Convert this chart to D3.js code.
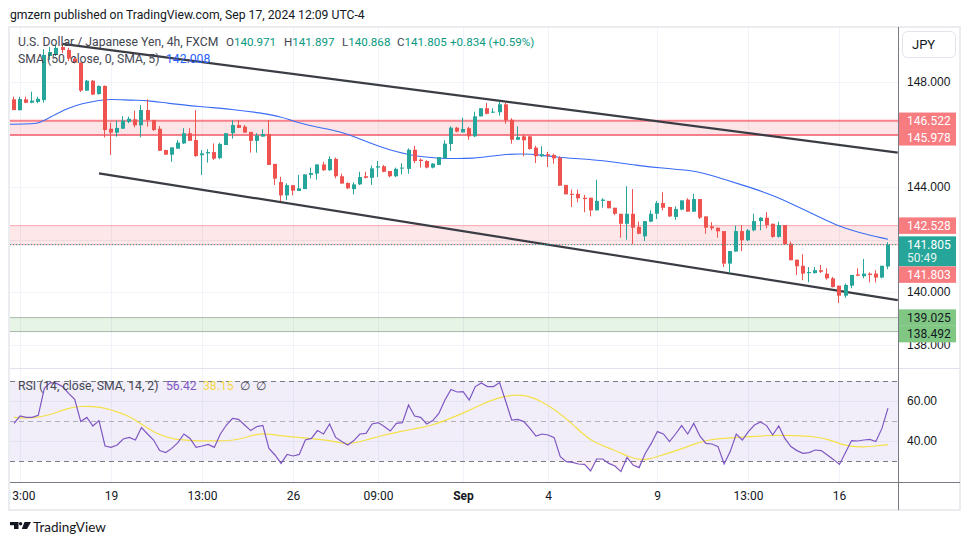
<!DOCTYPE html>
<html><head><meta charset="utf-8">
<script src="https://cdn.jsdelivr.net/npm/d3@7"></script>
<style>body{margin:0;background:#fff}svg{display:block;font-family:Roboto,'Liberation Sans',Arial,sans-serif}</style>
</head><body><svg id="c" width="970" height="545"></svg>
<script>
// ---------------- DATA ----------------
const publishText = "gmzern published on TradingView.com, Sep 17, 2024 12:09 UTC-4";
const symbolText = "U.S. Dollar / Japanese Yen, 4h, FXCM";
const ohlcLabels = ["O","H","L","C"];
const ohlcValues = ["140.971","141.897","140.868","141.805"];
const changeText = "+0.834 (+0.59%)";
const smaLegend = "SMA (50, close, 0, SMA, 5)";
const smaLast = "142.008";
const rsiLegend = "RSI (14, close, SMA, 14, 2)";
const rsiLast = "56.42";
const rsiMaLast = "38.15";

const candleOpen = [
147.34,146.93,147.34,147.21,147.24,147.31,148.99,149.03,149.33,149.22,
148.89,148.74,147.67,148.05,147.54,147.85,146.22,146.07,146.22,146.48,
146.58,146.35,146.93,146.55,146.22,145.41,145.23,145.46,145.66,146.05,
145.79,145.21,145.28,145.33,145.10,145.60,146.05,146.36,146.30,146.10,
145.76,145.92,146.02,144.88,144.19,143.68,144.07,143.85,143.92,144.46,
144.51,144.86,144.64,145.07,144.41,144.15,143.92,144.10,144.41,144.35,
144.74,144.79,144.61,144.41,144.70,144.69,145.42,145.04,144.99,144.74,
144.84,145.10,145.64,146.26,146.08,146.24,145.93,146.69,147.00,146.85,
146.85,147.15,146.56,145.80,145.93,145.93,145.50,145.17,145.25,145.22,
145.12,144.08,143.74,143.74,143.59,143.59,143.11,143.47,143.47,143.21,
142.98,142.60,142.98,142.48,142.12,142.68,142.98,143.39,143.24,142.86,
143.14,143.52,143.06,143.54,142.88,142.50,142.45,142.32,141.08,141.54,
142.32,141.97,142.35,142.70,142.83,142.60,142.10,142.55,141.84,141.23,
141.00,140.72,140.72,140.83,140.70,140.52,140.24,139.86,140.24,140.67,
140.60,140.70,140.70,140.55,140.971];
const candleHigh = [
147.44,147.44,147.44,147.63,147.44,149.25,149.33,149.41,149.45,149.30,
148.96,148.74,148.08,148.07,147.87,147.87,146.45,146.53,146.70,146.68,
146.91,147.12,147.34,146.56,146.32,145.42,145.51,145.79,146.24,146.24,
146.93,145.41,145.44,145.66,145.69,146.05,146.55,146.55,146.36,146.10,
146.05,146.20,146.55,144.88,144.39,144.14,144.07,144.46,144.48,144.74,
144.86,144.96,145.17,145.12,144.51,144.18,144.18,144.58,144.58,144.81,
144.99,144.84,144.61,144.74,144.91,145.47,145.57,145.09,145.02,144.91,
145.14,145.78,146.31,146.29,146.64,146.29,146.87,147.00,147.20,147.00,
147.25,147.20,146.62,146.31,146.01,145.95,145.57,145.55,145.34,145.27,
145.17,144.08,143.90,143.90,143.70,143.59,144.28,143.57,143.47,143.21,
142.98,144.03,143.92,142.68,142.70,143.11,143.47,143.80,143.24,143.26,
143.49,143.57,143.74,143.54,142.88,142.66,142.45,142.32,141.56,142.53,
142.55,142.40,142.98,142.86,143.04,142.60,142.68,142.55,141.92,141.23,
141.44,140.95,140.95,141.03,140.90,140.57,140.24,140.32,140.65,140.90,
141.26,140.75,140.83,141.00,141.897];
const candleLow = [
146.93,146.91,147.19,147.19,147.19,147.21,148.84,148.99,149.10,148.80,
148.71,147.62,147.67,147.50,147.52,145.89,145.22,145.92,146.22,146.43,
146.27,145.89,146.30,146.14,145.38,145.23,144.96,145.46,145.64,145.76,
145.15,144.46,144.93,145.03,145.06,145.60,145.84,146.25,146.07,145.31,
145.31,145.92,144.84,144.08,143.46,143.50,143.68,143.85,143.92,144.33,
144.28,144.61,144.61,144.33,144.13,143.92,143.72,144.08,144.33,144.08,
144.38,144.56,144.37,144.38,144.48,144.51,144.91,144.74,144.71,144.71,
144.84,145.09,145.37,146.08,146.08,145.80,145.90,146.69,146.77,146.82,
146.72,146.41,145.65,145.80,145.17,145.42,144.91,145.14,144.76,144.89,
144.05,143.72,143.24,143.42,143.04,142.88,143.11,143.21,143.19,142.93,
142.07,141.99,141.82,142.20,141.94,142.66,142.78,143.11,142.86,142.75,
143.11,143.06,143.06,142.78,142.22,142.35,142.07,140.95,140.72,141.54,
141.56,141.94,142.31,142.35,142.43,142.07,142.07,141.79,141.21,140.65,
140.45,140.37,140.70,140.72,140.47,140.17,139.58,139.78,140.14,140.60,
140.52,140.37,140.37,140.52,140.868];
const candleClose = [
146.93,147.35,147.21,147.29,147.36,149.03,149.14,149.30,149.22,148.89,
148.74,147.67,148.05,147.52,147.85,146.17,146.07,146.25,146.53,146.60,
146.35,146.93,146.55,146.17,145.38,145.23,145.51,145.69,146.05,145.76,
145.18,145.28,145.33,145.08,145.64,146.05,146.36,146.25,146.07,145.76,
145.97,146.02,144.84,144.32,143.68,144.07,143.86,143.95,144.48,144.53,
144.86,144.64,145.07,144.41,144.13,143.95,144.10,144.38,144.35,144.71,
144.79,144.58,144.41,144.69,144.74,145.42,144.99,144.99,144.74,144.89,
145.14,145.65,146.26,146.11,146.21,145.93,146.69,147.00,146.79,146.87,
147.15,146.54,145.80,145.90,145.78,145.45,145.17,145.25,145.19,145.09,
144.05,143.72,143.72,143.57,143.54,143.11,143.47,143.52,143.19,142.98,
142.60,142.98,142.45,142.22,142.70,142.98,143.39,143.21,142.88,143.16,
143.49,143.06,143.54,142.83,142.45,142.43,142.31,141.08,141.56,142.32,
141.97,142.35,142.70,142.83,142.55,142.10,142.55,141.82,141.21,140.98,
140.70,140.76,140.83,140.77,140.52,140.19,139.86,140.27,140.65,140.62,
140.70,140.65,140.55,141.00,141.805];

// SMA(50): bar index, value
const smaIdx = [0.3,4.3,5.3,7,9.7,12.4,15.2,16.8,20.6,23,26.2,31.6,37.1,41.5,45.3,46.5,49.3,51.9,54.7,57.5,60.1,62.9,65.7,68.4,71.2,74,76.6,79.4,82.2,84.8,87.7,90.5,93.1,98.5,103.4,108.6,112,114.6,117.9,121.2,124.3,127.5,130.4,133.3,136.4,139.9,145];
const smaVal = [146.39,146.40,146.45,146.66,147.00,147.19,147.31,147.35,147.30,147.30,147.19,147.06,146.96,146.83,146.66,146.55,146.36,146.24,146.11,145.88,145.63,145.41,145.25,145.14,145.09,145.08,145.09,145.17,145.25,145.27,145.22,145.14,145.09,145.01,144.82,144.70,144.65,144.53,144.30,144.06,143.83,143.54,143.22,142.90,142.55,142.27,142.01];

// Channel trend lines: [bar index, price]
const channelUpper = [[9, 149.45],[146.6, 145.31]];
const channelLower = [[15, 144.52],[146.6, 139.69]];

// Zones (hi, lo)
const zoneHi = [146.522, 142.528, 139.025];
const zoneLo = [145.978, 141.803, 138.492];

// Price axis
const priceTicks = [148, 146, 144, 142, 140, 138];
const lastPrice = 141.805;
const countdown = "50:49";
const labelPrices = [146.522, 145.978, 142.528, 141.805, 141.803, 139.025, 138.492];
const labelKind = ["red", "red", "red", "last", "red", "green", "green"];

// RSI
const rsiValues = [
48.8,52.5,51.8,51.8,52.8,66.3,69.2,68.8,67.2,63.8,
60.8,49.7,51.8,47.5,50.2,37.5,36.8,38.0,41.0,41.8,
40.5,46.7,43.5,40.5,35.2,34.2,36.3,39.2,43.5,41.3,
36.8,37.5,38.3,36.8,43.5,48.0,51.3,50.8,48.0,45.2,
47.2,47.8,36.3,33.0,28.8,33.3,32.5,33.3,40.5,41.3,
45.2,43.5,48.5,41.8,39.7,38.0,40.2,43.5,43.8,48.5,
49.2,47.2,45.0,48.8,49.2,58.0,52.5,51.8,48.5,50.2,
53.8,60.5,65.8,64.5,64.7,60.5,67.2,69.0,67.2,67.2,
69.2,60.0,50.5,50.8,49.7,46.3,42.5,43.5,43.0,41.7,
32.2,29.7,29.3,28.5,28.3,25.0,31.0,31.0,28.8,27.5,
24.7,31.8,28.0,26.7,33.8,38.8,44.7,43.5,39.7,43.5,
47.7,43.5,48.8,42.5,38.8,38.5,37.2,28.5,34.7,43.5,
40.5,44.7,48.0,49.5,47.7,43.0,47.5,41.3,37.2,35.2,
33.8,34.2,35.5,35.2,33.0,30.8,28.3,34.2,40.2,40.0,
40.5,40.8,39.7,46.3,56.42];
const rsiMaIdx = [1,4.2,6.9,9.7,11.9,15.2,17.9,19.6,21.8,24.5,27.3,31.7,36.1,38.3,41.6,43.8,48.1,51.4,53.6,55.8,59.1,61.9,64.6,67.4,70.1,72.9,75.6,77.8,80.5,83.3,85.5,87.7,90.1,93.2,95.9,99.8,102.5,104.7,108,110.7,113.5,116.2,120.6,124.5,130,132.7,135.4,137.1,138.7,140.9,143.7,145];
const rsiMaVal = [51.8,51.3,53.0,56.3,57.5,57.2,54.7,53.0,48.8,43.5,40.5,40.0,40.0,40.8,44.2,43.0,41.7,40.8,40.0,38.0,40.5,43.0,44.7,46.3,48.0,51.3,54.7,58.0,61.5,63.2,62.8,60.2,55.7,48.2,39.8,35.7,31.8,29.8,33.2,35.7,39.0,41.2,41.8,42.8,42.8,42.3,40.7,38.5,37.3,36.8,37.8,38.15];
const rsiLevels = [70, 50, 30];
const rsiTicks = [60, 40];

// Time axis: bar index, label
const timeTickIdx = [2, 17, 32, 47, 61, 75, 89, 107, 122, 137];
const timeTickText = ["13:00","19","13:00","26","09:00","Sep","4","9","13:00","16"];

// ---------------- LAYOUT ----------------
const plotL = 10, plotR = 898, priceTop = 28, priceBot = 368, rsiTop = 370, rsiBot = 482, frameBot = 510;
const UP = "#26a69a", DOWN = "#ef5350";
const LEG = 12.2;
const x = d3.scaleLinear().domain([1, 145]).range([14, 888]);
const y = d3.scaleLinear().domain([140, 148]).range([292, 82]);
const yR = d3.scaleLinear().domain([40, 60]).range([441, 401]);

const svg = d3.select("#c");
svg.append("rect").attr("width", 970).attr("height", 545).attr("fill", "#fff");
const defs = svg.append("defs");
defs.append("clipPath").attr("id", "clipP").append("rect").attr("x", plotL).attr("y", priceTop).attr("width", plotR - plotL).attr("height", priceBot - priceTop);
defs.append("clipPath").attr("id", "clipR").append("rect").attr("x", plotL).attr("y", rsiTop).attr("width", plotR - plotL).attr("height", rsiBot - rsiTop);
defs.append("clipPath").attr("id", "clipOS").append("rect").attr("x", plotL).attr("y", yR(30)).attr("width", plotR - plotL).attr("height", rsiBot - yR(30));
defs.append("clipPath").attr("id", "clipT").append("rect").attr("x", plotL).attr("y", rsiBot).attr("width", plotR - plotL).attr("height", frameBot - rsiBot);

svg.append("text").attr("x", 10).attr("y", 19).attr("font-size", 12.2).attr("fill", "#131722").text(publishText);

// frame
svg.append("rect").attr("x", 9).attr("y", 27).attr("width", 951).attr("height", 483)
  .attr("fill", "none").attr("stroke", "#ebecf0").attr("stroke-width", 2);

// grid
const grid = svg.append("g").attr("stroke", "#f0f3fa").attr("stroke-width", 1);
timeTickIdx.forEach(i => {
  const gx = Math.round(x(i)) + 0.5;
  grid.append("line").attr("x1", gx).attr("x2", gx).attr("y1", priceTop).attr("y2", rsiBot);
});
priceTicks.forEach(p => {
  const gy = Math.round(y(p)) + 0.5;
  grid.append("line").attr("x1", plotL).attr("x2", plotR).attr("y1", gy).attr("y2", gy);
});
rsiTicks.forEach(v => {
  const gy = Math.round(yR(v)) + 0.5;
  grid.append("line").attr("x1", plotL).attr("x2", plotR).attr("y1", gy).attr("y2", gy);
});

// zones
const zoneFill = ["rgba(242,54,69,0.13)", "rgba(242,54,69,0.12)", "rgba(76,175,80,0.14)"];
const zoneStroke = ["rgba(242,54,69,0.6)", "rgba(242,54,69,0.4)", "rgba(120,140,120,0.6)"];
const zoneSW = [2, 1, 1];
const zg = svg.append("g").attr("clip-path", "url(#clipP)");
zoneHi.forEach((hi, k) => {
  const lo = zoneLo[k];
  zg.append("rect").attr("x", plotL).attr("width", plotR - plotL)
    .attr("y", y(hi)).attr("height", y(lo) - y(hi)).attr("fill", zoneFill[k]);
  [hi, lo].forEach(p => zg.append("line").attr("x1", plotL).attr("x2", plotR)
    .attr("y1", y(p)).attr("y2", y(p)).attr("stroke", zoneStroke[k]).attr("stroke-width", zoneSW[k]));
});

const pg = svg.append("g").attr("clip-path", "url(#clipP)");
// SMA line
const smaPts = smaIdx.map((d, k) => [d, smaVal[k]]);
pg.append("path").attr("d", d3.line().x(d => x(d[0])).y(d => y(d[1])).curve(d3.curveBasis)(smaPts))
  .attr("fill", "none").attr("stroke", "#3a6cf4").attr("stroke-width", 1.1);

// channel lines
[channelUpper, channelLower].forEach(ch => {
  pg.append("path").attr("d", d3.line().x(d => x(d[0])).y(d => y(d[1]))(ch))
    .attr("fill", "none").attr("stroke", "#3b3d45").attr("stroke-width", 2.2);
});

// candles
const cg = pg.append("g");
candleOpen.forEach((o, k) => {
  const i = k + 1, c = candleClose[k], h = candleHigh[k], l = candleLow[k];
  const col = c >= o ? UP : DOWN;
  const bx = Math.round(x(i)) - 2;
  cg.append("line").attr("x1", bx + 1.5).attr("x2", bx + 1.5).attr("y1", y(h)).attr("y2", y(l))
    .attr("stroke", col).attr("stroke-width", 1);
  const top = y(Math.max(o, c)), bot = y(Math.min(o, c));
  cg.append("rect").attr("x", bx).attr("width", 4).attr("y", top).attr("height", Math.max(1, bot - top)).attr("fill", col);
});

// last price dotted line
pg.append("line").attr("x1", plotL).attr("x2", plotR).attr("y1", y(lastPrice)).attr("y2", y(lastPrice))
  .attr("stroke", UP).attr("stroke-width", 1).attr("stroke-dasharray", "1,2");

// legend (price pane)
const lg = svg.append("g").attr("font-size", LEG);
lg.append("text").attr("x", 18).attr("y", 46).attr("fill", "#434651").text(symbolText);
const ohlcX = [226, 284, 342, 397];
ohlcLabels.forEach((lab, k) => {
  const t = lg.append("text").attr("x", ohlcX[k]).attr("y", 46).attr("font-size", 11.6).attr("fill", "#434651");
  t.append("tspan").text(lab);
  t.append("tspan").attr("fill", "#089981").text(ohlcValues[k]);
});
lg.append("text").attr("x", 450).attr("y", 46).attr("font-size", 11.6).attr("fill", "#089981").text(changeText);
lg.append("text").attr("x", 18).attr("y", 63).attr("fill", "#434651").text(smaLegend);
lg.append("text").attr("x", 166).attr("y", 63).attr("fill", "#2962ff").text(smaLast);

// ---------------- RSI PANE ----------------
const rg = svg.append("g").attr("clip-path", "url(#clipR)");
rg.append("rect").attr("x", plotL).attr("width", plotR - plotL).attr("y", yR(70)).attr("height", yR(30) - yR(70))
  .attr("fill", "rgba(126,87,194,0.1)");
rsiLevels.forEach(v => {
  rg.append("line").attr("x1", plotL).attr("x2", plotR).attr("y1", Math.round(yR(v)) + 0.5).attr("y2", Math.round(yR(v)) + 0.5)
    .attr("stroke", v === 50 ? "rgba(120,123,134,0.55)" : "#787b86").attr("stroke-width", 1).attr("stroke-dasharray", "5,4");
});
// oversold fill
rg.append("path").attr("clip-path", "url(#clipOS)")
  .attr("d", d3.area().x((d, k) => x(k + 1)).y0(yR(30)).y1(d => yR(d))(rsiValues))
  .attr("fill", "rgba(242,54,69,0.08)");
const rsiMaPts = rsiMaIdx.map((d, k) => [d, rsiMaVal[k]]);
rg.append("path").attr("d", d3.line().x(d => x(d[0])).y(d => yR(d[1])).curve(d3.curveBasis)(rsiMaPts))
  .attr("fill", "none").attr("stroke", "#f5e04a").attr("stroke-width", 1.2);
rg.append("path").attr("d", d3.line().x((d, k) => x(k + 1)).y(d => yR(d))(rsiValues))
  .attr("fill", "none").attr("stroke", "#7e57c2").attr("stroke-width", 1.2);

const rl = svg.append("g").attr("font-size", LEG);
rl.append("text").attr("x", 18).attr("y", 390).attr("fill", "#434651").text(rsiLegend);
rl.append("text").attr("x", 166).attr("y", 390).attr("fill", "#7e57c2").text(rsiLast);
rl.append("text").attr("x", 203).attr("y", 390).attr("fill", "#f2d94a").text(rsiMaLast);
rl.append("text").attr("x", 240).attr("y", 390).attr("fill", "#434651").text("∅");
rl.append("text").attr("x", 256).attr("y", 390).attr("fill", "#434651").text("∅");

// ---------------- AXES ----------------
svg.append("line").attr("x1", plotL).attr("x2", 960).attr("y1", rsiTop - 1.5).attr("y2", rsiTop - 1.5).attr("stroke", "#e0e3eb");
svg.append("line").attr("x1", plotL).attr("x2", 960).attr("y1", rsiBot + 0.5).attr("y2", rsiBot + 0.5).attr("stroke", "#787b86");
svg.append("line").attr("x1", plotR + 0.5).attr("x2", plotR + 0.5).attr("y1", 27).attr("y2", frameBot).attr("stroke", "#787b86");

// price labels layout (stacked to avoid overlap)
const kindFill = { red: "#f77c80", last: UP, green: "#81c784" };
const kindText = { red: "#ffffff", last: "#ffffff", green: "#131722" };
let prevBottom = -Infinity;
const boxes = labelPrices.map((p, k) => {
  const kind = labelKind[k];
  const hgt = kind === "last" ? 30 : 16.5;
  let top = y(p) - 8.25;
  if (top < prevBottom) top = prevBottom;
  prevBottom = top + hgt;
  return { p, kind, top, hgt };
});

// price axis ticks (fully covered ones hidden; partly covered ones clipped below the box)
const visibleTicks = priceTicks.filter(p => !boxes.some(b => y(p) > b.top + 2 && y(p) < b.top + b.hgt - 2));
const lastBox = boxes[boxes.length - 1];
defs.append("clipPath").attr("id", "clipAx").append("rect").attr("x", plotR).attr("y", 27)
  .attr("width", 62).attr("height", frameBot - 27);
const pAxis = svg.append("g").attr("transform", `translate(${plotR},0)`)
  .call(d3.axisRight(y).tickValues(visibleTicks).tickFormat(d3.format(".3f")).tickSize(0).tickPadding(9));
pAxis.select(".domain").remove();
pAxis.selectAll("text").attr("font-size", 12).attr("fill", "#131722").attr("font-family", null);

const rAxis = svg.append("g").attr("transform", `translate(${plotR},0)`)
  .call(d3.axisRight(yR).tickValues(rsiTicks).tickFormat(d3.format(".2f")).tickSize(0).tickPadding(9));
rAxis.select(".domain").remove();
rAxis.selectAll("text").attr("font-size", 12).attr("fill", "#131722").attr("font-family", null);

// time axis
const tg = svg.append("g").attr("clip-path", "url(#clipT)").attr("font-size", 12).attr("fill", "#131722").attr("text-anchor", "middle");
timeTickIdx.forEach((i, k) => {
  tg.append("text").attr("x", Math.round(x(i)) + 0.5).attr("y", 500)
    .attr("font-weight", timeTickText[k] === "Sep" ? "bold" : null).text(timeTickText[k]);
});

// label boxes
const labG = svg.append("g").attr("font-size", 12);
boxes.forEach(b => {
  labG.append("rect").attr("x", plotR + 1).attr("y", b.top).attr("width", 57).attr("height", b.hgt).attr("fill", kindFill[b.kind]);
  labG.append("text").attr("x", 907).attr("y", b.top + 12.5).attr("fill", kindText[b.kind]).text(b.p.toFixed(3));
  if (b.kind === "last") labG.append("text").attr("x", 907).attr("y", b.top + 26).attr("fill", "rgba(255,255,255,0.9)").text(countdown);
});

// JPY button
svg.append("rect").attr("x", 902.5).attr("y", 31.5).attr("width", 53).attr("height", 26).attr("rx", 5)
  .attr("fill", "#fff").attr("stroke", "#e0e3eb");
svg.append("text").attr("x", 912).attr("y", 49).attr("font-size", 13).attr("fill", "#131722").text("JPY");

// TradingView logo
const logo = svg.append("g").attr("fill", "#131722");
logo.append("path").attr("d", "M10,522 H18.5 V529 H14 V525.3 H10 Z");
logo.append("circle").attr("cx", 20.6).attr("cy", 523.7).attr("r", 1.7);
logo.append("path").attr("d", "M24.5,522 H31 L27,529 H21.8 Z");
svg.append("text").attr("x", 33).attr("y", 532).attr("font-size", 13.5).attr("font-family", "Lato, sans-serif")
  .attr("fill", "#131722").text("TradingView");
</script></body></html>
